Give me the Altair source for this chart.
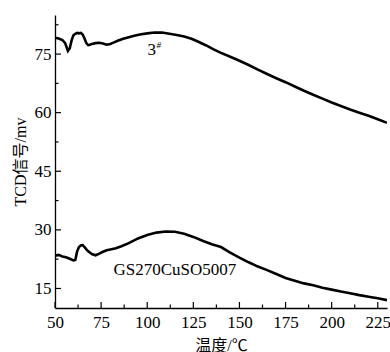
import altair as alt
import pandas as pd

# Sample 3#
x_top = [50, 52, 54, 55.5, 57, 58, 59, 60, 61, 62, 63, 64, 65, 66, 67, 68, 69, 70, 72, 74,
         76, 78, 80, 82, 84, 87, 90, 93, 96, 100, 104, 108, 112, 116, 120, 124, 128, 132,
         136, 140, 145, 150, 155, 160, 165, 170, 175, 180, 185, 190, 195, 200, 205, 210,
         215, 220, 225, 230]
y_top = [79.2, 79.0, 78.6, 77.8, 75.8, 76.5, 78.5, 79.8, 80.2, 80.4, 80.3, 80.4, 80.0, 79.0,
         77.8, 77.3, 77.4, 77.6, 77.8, 77.9, 77.7, 77.4, 77.6, 78.0, 78.4, 78.9, 79.3, 79.7,
         80.0, 80.3, 80.5, 80.5, 80.2, 79.9, 79.5, 78.9, 78.1, 77.2, 76.2, 75.3, 74.3, 73.3,
         72.2, 71.0, 69.9, 68.8, 67.8, 66.7, 65.6, 64.6, 63.6, 62.6, 61.7, 60.8, 60.0, 59.2,
         58.3, 57.4]

# Sample GS270CuSO5007
x_bot = [50, 52, 54, 56, 58, 60, 61, 62, 63, 64, 65, 66, 67, 68, 70, 72, 74, 76, 78, 80, 83,
         86, 90, 95, 100, 105, 110, 115, 120, 125, 130, 135, 140, 145, 150, 155, 160, 165,
         170, 175, 180, 185, 190, 195, 200, 205, 210, 215, 220, 225, 230]
y_bot = [23.4, 23.6, 23.2, 23.0, 22.6, 22.2, 22.3, 24.5, 25.6, 26.0, 26.1, 25.6, 25.0, 24.5,
         23.8, 23.5, 23.9, 24.4, 24.8, 25.0, 25.3, 25.8, 26.6, 27.8, 28.7, 29.3, 29.6, 29.5,
         29.0, 28.2, 27.2, 26.3, 25.6, 24.2, 22.9, 21.7, 20.6, 19.7, 18.7, 17.7, 17.0, 16.3,
         15.8, 15.2, 14.7, 14.2, 13.8, 13.3, 12.9, 12.5, 12.0]

x_major = [50, 75, 100, 125, 150, 175, 200, 225]
x_minor = [62.5, 87.5, 112.5, 137.5, 162.5, 187.5, 212.5]
y_major = [15, 30, 45, 60, 75]
y_minor = [22.5, 37.5, 52.5, 67.5, 82.5]

label_text = ["3", "#", "GS270CuSO5007"]
label_x = [102.4, 106.2, 115.0]
label_y = [76.1, 77.4, 19.7]

SERIF = "Times New Roman, Liberation Serif, serif"
MIXED = "Times New Roman, Liberation Serif, Noto Sans CJK SC, serif"
W, H = 332, 293

df = pd.concat([
    pd.DataFrame({"t": x_top, "v": y_top, "s": "3#"}),
    pd.DataFrame({"t": x_bot, "v": y_bot, "s": "GS"}),
])

xs = alt.Scale(domain=[50, 230], nice=False, zero=False)
ys = alt.Scale(domain=[10, 85], nice=False, zero=False)

lines = alt.Chart(df).mark_line(color="black", strokeWidth=2.6, clip=True).encode(
    x=alt.X("t:Q", scale=xs, axis=alt.Axis(
        values=x_major, title="温度/℃", ticks=False, grid=False, labelFlush=False,
        labelOverlap=False,
        labelFont=SERIF, labelFontSize=17, labelColor="black", labelPadding=6,
        titleFont=MIXED, titleFontSize=16, titleFontWeight="normal", titleColor="black",
        titlePadding=7, domainColor="black", domainWidth=1.3)),
    y=alt.Y("v:Q", scale=ys, axis=alt.Axis(
        values=y_major, title="TCD信号/mv", ticks=False, grid=False, labelFlush=False,
        labelFont=SERIF, labelFontSize=17, labelColor="black", labelPadding=4,
        titleFont=MIXED, titleFontSize=16, titleFontWeight="normal", titleColor="black",
        titlePadding=6, domainColor="black", domainWidth=1.3)),
    detail="s:N",
)

xmaj = alt.Chart(pd.DataFrame({"t": x_major})).mark_rule(color="black", strokeWidth=1.2).encode(
    x=alt.X("t:Q", scale=xs), y=alt.value(H), y2=alt.value(H - 6))
xmin = alt.Chart(pd.DataFrame({"t": x_minor})).mark_rule(color="black", strokeWidth=1.2).encode(
    x=alt.X("t:Q", scale=xs), y=alt.value(H), y2=alt.value(H - 3.5))
ymaj = alt.Chart(pd.DataFrame({"v": y_major})).mark_rule(color="black", strokeWidth=1.2).encode(
    y=alt.Y("v:Q", scale=ys), x=alt.value(0), x2=alt.value(6))
ymin = alt.Chart(pd.DataFrame({"v": y_minor})).mark_rule(color="black", strokeWidth=1.2).encode(
    y=alt.Y("v:Q", scale=ys), x=alt.value(0), x2=alt.value(3.5))

ldf = pd.DataFrame({"text": label_text, "t": label_x, "v": label_y})
txt_main = alt.Chart(ldf[ldf.text != "#"]).mark_text(
    font=SERIF, fontSize=17, color="black", baseline="middle", align="center").encode(
    x=alt.X("t:Q", scale=xs), y=alt.Y("v:Q", scale=ys), text="text:N")
txt_sup = alt.Chart(ldf[ldf.text == "#"]).mark_text(
    font=SERIF, fontSize=9, fontStyle="italic", color="black", baseline="middle", align="center").encode(
    x=alt.X("t:Q", scale=xs), y=alt.Y("v:Q", scale=ys), text="text:N")

chart = alt.layer(lines, xmaj, xmin, ymaj, ymin, txt_main, txt_sup).properties(
    width=W, height=H,
    autosize=alt.AutoSizeParams(type="none"),
    padding={"left": 55, "top": 15, "right": 3, "bottom": 44},
    background="white",
).configure_view(stroke=None)

chart.save("out.html", embed_options={"renderer": "svg", "actions": False})
